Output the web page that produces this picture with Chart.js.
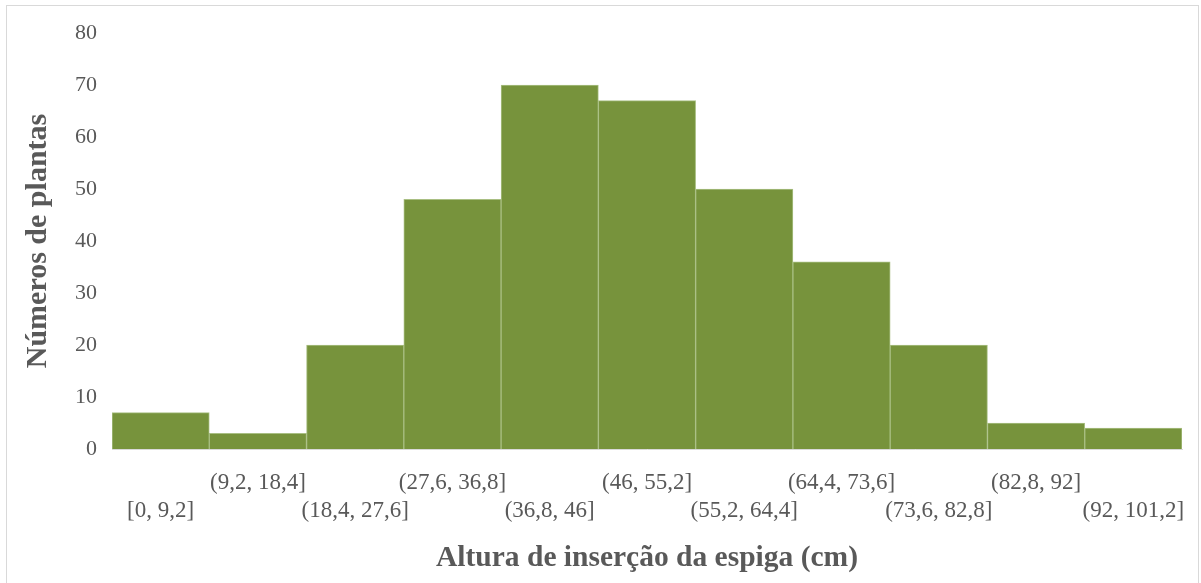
<!DOCTYPE html>
<html>
<head>
<meta charset="utf-8">
<script src="https://cdn.jsdelivr.net/npm/chart.js@4/dist/chart.umd.min.js"></script>
<style>
  html, body { margin: 0; padding: 0; background: #ffffff; }
  #wrap { position: relative; width: 1201px; height: 583px; overflow: hidden; }
  #frame { position: absolute; left: 6px; top: 5px; width: 1193px; height: 600px;
           border: 1px solid #d9d9d9; box-sizing: border-box; }
  canvas { position: absolute; left: 0; top: 0; }
</style>
</head>
<body>
<div id="wrap">
  <div id="frame"></div>
  <canvas id="chart" width="1201" height="583"></canvas>
</div>
<script>
// Class intervals of ear insertion height (cm)
const classes = [
  '[0, 9,2]', '(9,2, 18,4]', '(18,4, 27,6]', '(27,6, 36,8]', '(36,8, 46]',
  '(46, 55,2]', '(55,2, 64,4]', '(64,4, 73,6]', '(73,6, 82,8]', '(82,8, 92]',
  '(92, 101,2]'
];
// Number of plants in each class
const counts = [7, 3, 20, 48, 70, 67, 50, 36, 20, 5, 4];
// Y axis range
const yMin = 0;
const yMax = 80;
const yStep = 10;

const textColor = '#595959';
const serif = '"Liberation Serif", "Times New Roman", serif';

new Chart(document.getElementById('chart'), {
  type: 'bar',
  data: {
    labels: classes,
    datasets: [{
      data: counts,
      backgroundColor: '#77933c',
      borderColor: '#a9bf83',
      borderWidth: 1,
      categoryPercentage: 1.0,
      barPercentage: 1.0
    }]
  },
  options: {
    responsive: false,
    animation: false,
    events: [],
    layout: { padding: { top: 33, right: 19, left: 0, bottom: 0 } },
    plugins: { legend: { display: false }, tooltip: { enabled: false } },
    scales: {
      x: {
        grid: { display: false, drawTicks: false },
        border: { display: true, color: '#d9d9d9', width: 1 },
        ticks: {
          autoSkip: false,
          maxRotation: 0,
          minRotation: 0,
          padding: 20,
          color: textColor,
          font: { family: serif, size: 23, lineHeight: 1.22 },
          // staggered labels: odd classes on the upper row, even on the lower
          callback: function (value, index) {
            const t = classes[index];
            return index % 2 === 1 ? [t, ''] : ['', t];
          }
        },
        title: {
          display: true,
          text: 'Altura de inserção da espiga (cm)',
          color: textColor,
          font: { family: serif, size: 29.5, weight: 'bold', lineHeight: 1.2 },
          padding: { top: 0, bottom: 7 }
        },
        afterFit: function (scale) {
          scale.height = 134;
          scale.paddingLeft = 0;
          scale.paddingRight = 0;
        }
      },
      y: {
        min: yMin,
        max: yMax,
        grid: { display: false, drawTicks: false },
        border: { display: false },
        ticks: {
          stepSize: yStep,
          padding: 15,
          color: textColor,
          font: { family: serif, size: 22 }
        },
        title: {
          display: true,
          text: 'Números de plantas',
          color: textColor,
          font: { family: serif, size: 30, weight: 'bold', lineHeight: 1.2 },
          padding: { top: 20, bottom: 0 }
        },
        afterFit: function (scale) { scale.width = 112; }
      }
    }
  }
});
</script>
</body>
</html>
